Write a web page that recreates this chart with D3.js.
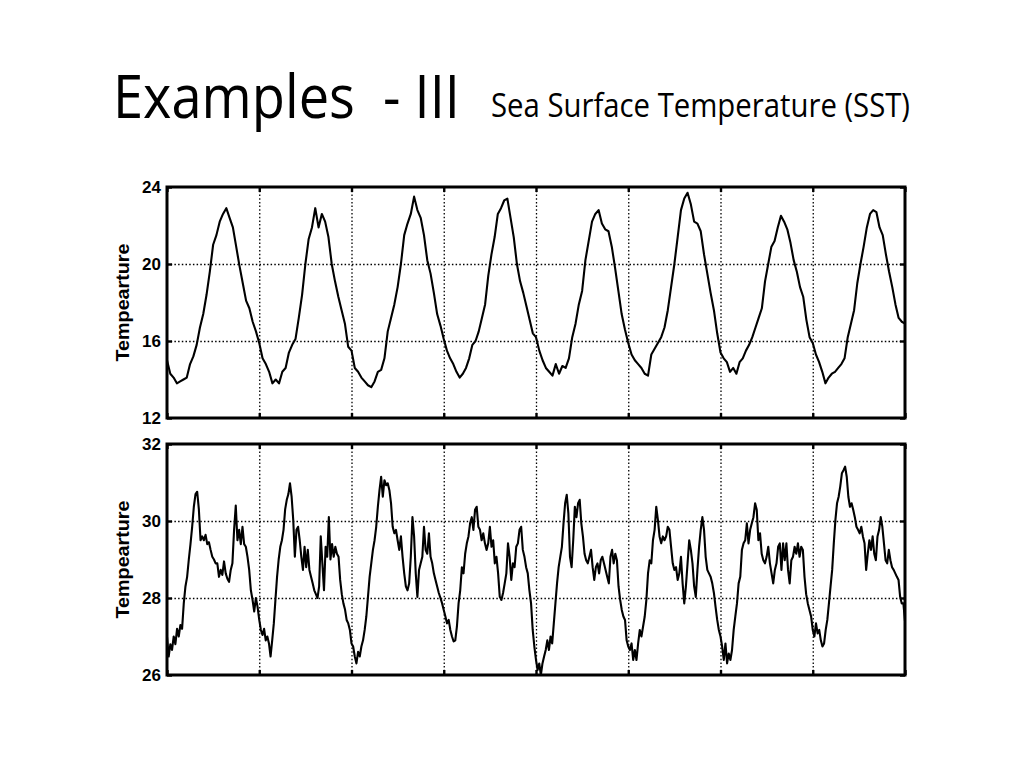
<!DOCTYPE html>
<html>
<head>
<meta charset="utf-8">
<script src="https://cdn.jsdelivr.net/npm/d3@7"></script>
<style>
  html, body { margin: 0; padding: 0; background: #fff; }
  svg { display: block; }
  .pre { white-space: pre; }
</style>
</head>
<body>
<svg id="chart" width="1024" height="768"></svg>
<script>
// ---------------- DATA ----------------
const titleMain = "Examples  - III";
const titleSub = "Sea Surface Temperature (SST)";
const yLabel = "Tempearture";
const years = [0, 1, 2, 3, 4, 5, 6, 7, 8];

const topTicks = [12, 16, 20, 24];
const bottomTicks = [26, 28, 30, 32];

// Top panel: SST per year (evenly spaced samples within each year)
const sstTopYears = [
  [15.0,14.3,14.1,13.8,13.9,14.0,14.1,14.8,15.2,15.8,16.7,17.4,18.4,19.6,21.0,21.5,22.2,22.6,22.9,22.4,21.9,20.9,19.9,19.0,18.1,17.7,17.0,16.5],
  [15.9,15.1,14.8,14.4,13.8,14.0,13.8,14.4,14.6,15.4,15.8,16.1,17.2,18.4,20.0,21.3,21.9,22.9,21.9,22.6,22.2,21.4,20.0,19.1,18.3,17.6,16.9,15.7],
  [15.5,14.6,14.4,14.1,13.9,13.7,13.6,13.9,14.4,14.5,15.1,16.5,17.2,17.9,18.8,20.0,21.5,22.1,22.6,23.5,22.8,22.4,21.5,20.2,19.5,18.5,17.4,16.8],
  [16.1,15.5,15.1,14.8,14.4,14.1,14.3,14.6,15.1,15.8,16.0,16.5,17.2,17.9,19.4,20.5,21.4,22.6,22.9,23.3,23.4,22.4,21.4,20.0,19.1,18.5,17.8,17.1,16.4],
  [16.2,15.5,15.0,14.6,14.4,14.2,14.8,14.3,14.7,14.6,15.1,16.2,16.9,17.9,18.6,20.2,21.2,22.2,22.6,22.8,22.1,21.8,21.7,20.9,19.8,18.6,17.4,16.6],
  [15.9,15.3,15.0,14.8,14.6,14.3,14.2,15.3,15.6,15.9,16.2,16.7,17.6,18.8,20.0,21.4,22.8,23.4,23.7,23.1,22.2,22.1,21.7,20.5,19.5,18.5,17.6,16.4],
  [15.4,15.1,14.9,14.4,14.6,14.3,14.9,15.1,15.5,15.8,16.2,16.7,17.2,17.7,19.1,20.0,20.9,21.2,21.9,22.5,22.2,21.8,21.1,20.2,19.6,18.8,18.3,17.1,16.2],
  [15.9,15.3,14.9,14.4,13.8,14.1,14.3,14.4,14.6,14.8,15.1,16.2,16.9,17.6,19.0,20.0,20.9,21.9,22.6,22.8,22.7,21.9,21.5,20.5,19.6,18.8,17.9,17.2,17.0]
];
const sstTopEnd = 16.9;

// Bottom panel: SST per year (evenly spaced samples within each year)
const sstBottomYears = [
  [27.0,26.48,26.8,26.65,27.0,26.8,27.2,27.0,27.3,27.2,27.86,28.3,28.55,29.0,29.4,29.85,30.37,30.7,30.76,30.3,29.5,29.6,29.5,29.64,29.4,29.45,29.25,29.07,29.0,28.9,28.9,28.55,28.73,28.6,28.95,28.64,28.5,28.42,28.73,28.9,29.77,30.4,29.5,29.77,29.4,29.85,29.4,29.33,29.07,28.73,28.2,27.95,27.65,28.0,27.77],
  [27.43,27.17,27.04,27.2,26.9,27.0,26.82,26.48,26.9,27.34,27.95,28.55,29.0,29.33,29.5,29.77,30.3,30.55,30.7,30.98,30.63,30.03,29.07,29.77,29.85,29.5,29.07,28.73,29.33,28.8,29.25,28.73,28.55,28.38,28.2,28.1,28.0,28.3,29.6,28.9,28.2,29.33,29.07,30.1,29.0,29.4,29.07,29.33,29.15,29.07,28.47,28.1,27.86,27.7,27.43,27.34,27.17],
  [26.82,26.74,26.48,26.3,26.6,26.48,26.74,26.9,27.17,27.52,28.03,28.55,28.9,29.25,29.5,29.85,30.37,30.8,31.15,30.63,31.06,30.93,30.98,30.8,30.46,29.85,29.68,29.77,29.5,29.25,29.6,29.07,28.64,28.3,28.2,28.38,29.07,30.1,29.6,28.64,28.03,28.73,28.9,29.07,29.85,29.25,29.15,29.68,29.07,28.9,28.64,28.47,28.3,28.13,28.0,27.86],
  [27.69,27.52,27.34,27.43,27.17,27.0,26.87,26.9,27.26,27.86,28.2,28.8,28.64,29.15,29.42,29.6,29.94,30.1,29.77,30.29,30.37,29.85,29.77,29.5,29.68,29.42,29.25,29.42,29.85,29.33,29.5,28.9,29.07,28.64,28.03,27.95,28.13,28.38,28.64,29.42,29.07,28.47,28.9,28.8,29.33,29.42,29.77,29.85,29.25,29.07,28.8,28.64,28.2,27.86,27.17,26.74],
  [26.39,26.13,26.3,26.0,26.3,26.48,26.65,26.9,26.65,27.0,26.82,27.34,27.86,28.38,28.8,29.07,29.33,29.94,30.46,30.68,30.2,29.07,28.8,29.5,30.37,30.1,30.46,30.55,29.94,29.6,29.15,28.98,28.9,29.07,29.25,28.8,28.47,28.8,28.9,28.64,28.98,29.07,28.9,28.73,28.55,28.38,29.07,29.25,28.9,29.15,28.98,28.3,27.95,27.69,27.52,27.43,26.9],
  [26.74,26.65,26.82,26.39,26.65,26.39,26.82,27.17,27.0,27.26,27.52,27.95,28.64,28.98,28.9,29.5,29.77,30.37,30.03,29.6,29.42,29.6,29.5,29.6,29.85,29.77,29.33,28.9,28.73,28.8,28.47,28.64,29.07,28.38,27.86,28.3,28.9,29.5,29.25,28.9,28.3,28.03,28.73,29.33,29.77,30.1,29.77,29.07,28.73,28.64,28.55,28.38,28.13,27.77,27.43,27.17],
  [27.0,26.74,26.39,26.82,26.3,26.56,26.39,26.65,27.17,27.52,27.86,28.38,28.55,29.25,29.42,29.5,29.94,29.42,29.77,29.94,30.1,30.46,30.29,29.5,29.68,29.15,28.98,28.9,29.07,29.33,28.9,28.64,28.38,28.73,28.9,29.33,29.42,28.73,29.42,28.98,29.42,28.73,28.38,28.98,29.07,29.33,29.15,29.42,29.07,29.33,29.25,28.55,28.1,27.86,27.69,27.52],
  [27.17,27.0,27.34,27.08,27.17,26.9,26.74,26.82,27.17,27.43,27.86,28.3,28.73,29.42,30.03,30.46,30.63,30.9,31.24,31.32,31.41,31.15,30.63,30.37,30.46,30.29,30.1,29.85,29.77,29.68,29.85,29.6,29.42,28.73,29.15,29.5,29.25,29.6,29.15,28.98,29.6,29.77,30.1,29.85,29.42,28.98,28.9,29.25,28.98,28.8,28.73,28.64,28.55,28.47,28.03,27.86,27.86]
];
const sstBottomEnd = 27.4;

// ---------------- HELPERS ----------------
function flatten(yearArrays, endValue) {
  const pts = [];
  yearArrays.forEach((arr, k) => {
    arr.forEach((v, i) => pts.push({ t: k + i / arr.length, v }));
  });
  pts.push({ t: yearArrays.length, v: endValue });
  return pts;
}

const svg = d3.select("#chart");

// Title
svg.append("text")
  .attr("class", "pre")
  .attr("x", 113).attr("y", 118)
  .attr("font-family", "'Open Sans', 'Noto Sans', sans-serif")
  .attr("font-size", 60)
  .attr("textLength", 347)
  .attr("lengthAdjust", "spacingAndGlyphs")
  .attr("fill", "#000")
  .text(titleMain);

svg.append("text")
  .attr("x", 491).attr("y", 117)
  .attr("font-family", "'Open Sans', 'Noto Sans', sans-serif")
  .attr("font-size", 32)
  .attr("textLength", 419)
  .attr("lengthAdjust", "spacingAndGlyphs")
  .attr("fill", "#000")
  .text(titleSub);

const left = 167, right = 905;
const x = d3.scaleLinear().domain([0, 8]).range([left, right]);

function panel(top, bottom, domain, ticks, data) {
  const y = d3.scaleLinear().domain(domain).range([bottom, top]);
  const g = svg.append("g");

  // vertical dotted grid
  g.append("g")
    .attr("transform", `translate(0,${bottom})`)
    .call(d3.axisBottom(x).tickValues(years.slice(1, -1)).tickSize(-(bottom - top)).tickFormat(""))
    .call(a => a.select(".domain").remove())
    .call(a => a.selectAll("line").attr("stroke", "#000").attr("stroke-width", 1.3).attr("stroke-dasharray", "1.5,2.2"));

  // horizontal dotted grid
  g.append("g")
    .attr("transform", `translate(${left},0)`)
    .call(d3.axisLeft(y).tickValues(ticks.slice(1, -1)).tickSize(-(right - left)).tickFormat(""))
    .call(a => a.select(".domain").remove())
    .call(a => a.selectAll("line").attr("stroke", "#000").attr("stroke-width", 1.3).attr("stroke-dasharray", "1.5,2.2"));

  // inward ticks (all four sides)
  const tickLen = 5;
  g.append("g").attr("transform", `translate(0,${bottom})`)
    .call(d3.axisTop(x).tickValues(years).tickSize(tickLen).tickFormat(""))
    .call(a => a.select(".domain").remove())
    .call(a => a.selectAll("line").attr("stroke", "#000").attr("stroke-width", 2.4));
  g.append("g").attr("transform", `translate(0,${top})`)
    .call(d3.axisBottom(x).tickValues(years).tickSize(tickLen).tickFormat(""))
    .call(a => a.select(".domain").remove())
    .call(a => a.selectAll("line").attr("stroke", "#000").attr("stroke-width", 2.4));
  g.append("g").attr("transform", `translate(${right},0)`)
    .call(d3.axisLeft(y).tickValues(ticks).tickSize(tickLen).tickFormat(""))
    .call(a => a.select(".domain").remove())
    .call(a => a.selectAll("line").attr("stroke", "#000").attr("stroke-width", 2.4));

  // left axis with labels
  g.append("g").attr("transform", `translate(${left},0)`)
    .call(d3.axisRight(y).tickValues(ticks).tickSize(tickLen).tickFormat(d3.format("d")))
    .call(a => a.select(".domain").remove())
    .call(a => a.selectAll("line").attr("stroke", "#000").attr("stroke-width", 2.4))
    .call(a => a.selectAll("text")
      .attr("text-anchor", "end")
      .attr("x", -6)
      .attr("font-family", "'Liberation Sans', Arial, sans-serif")
      .attr("font-weight", "bold")
      .attr("font-size", 17)
      .attr("fill", "#000"));

  // data line
  const line = d3.line().x(d => x(d.t)).y(d => y(d.v));
  g.append("path")
    .datum(data)
    .attr("fill", "none")
    .attr("stroke", "#000")
    .attr("stroke-width", 2.1)
    .attr("stroke-linejoin", "round")
    .attr("d", line);

  // frame
  g.append("rect")
    .attr("x", left).attr("y", top)
    .attr("width", right - left).attr("height", bottom - top)
    .attr("fill", "none").attr("stroke", "#000").attr("stroke-width", 3);

  // y label
  g.append("text")
    .attr("transform", `translate(129,${(top + bottom) / 2}) rotate(-90)`)
    .attr("text-anchor", "middle")
    .attr("font-family", "'Liberation Sans', Arial, sans-serif")
    .attr("font-weight", "bold")
    .attr("font-size", 18)
    .attr("textLength", 118)
    .attr("lengthAdjust", "spacingAndGlyphs")
    .attr("fill", "#000")
    .text(yLabel);
}

panel(187, 418, [12, 24], topTicks, flatten(sstTopYears, sstTopEnd));
panel(444, 675, [26, 32], bottomTicks, flatten(sstBottomYears, sstBottomEnd));
</script>
</body>
</html>
